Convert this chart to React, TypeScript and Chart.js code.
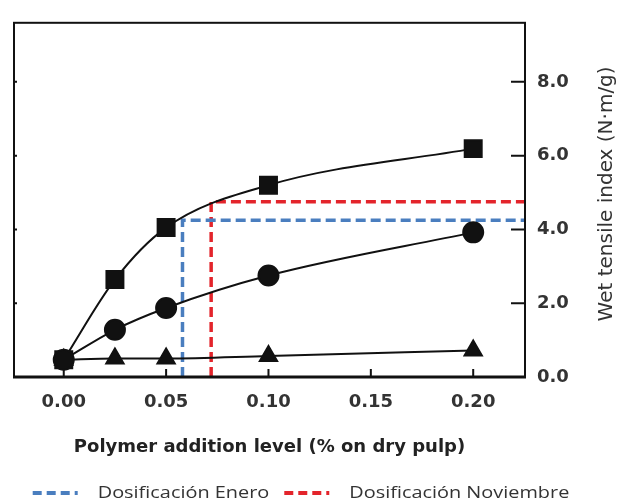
import React, { useEffect, useRef } from "react";
import { Chart, registerables } from "chart.js";

Chart.register(...registerables);

// ---- data ----
const additionLevels = [0, 0.025, 0.05, 0.1, 0.2];
const squareSeries = [0.47, 2.64, 4.05, 5.2, 6.19];
const circleSeries = [0.47, 1.28, 1.87, 2.75, 3.92];
const triangleSeries = [0.47, 0.5, 0.5, 0.57, 0.72];

const xTickValues = [0, 0.05, 0.1, 0.15, 0.2];
const yTickValues = [0, 2, 4, 6, 8];

const eneroDose = 0.058;
const eneroTensile = 4.25;
const noviembreDose = 0.072;
const noviembreTensile = 4.75;

const xMin = -0.0243;
const xMax = 0.2253;
const yMin = 0;
const yMax = 9.6;

const legendLabels = ["Dosificación Enero", "Dosificación Noviembre"];
const yTitle = "Wet tensile index (N·m/g)";
const xTitle = "Polymer addition level (% on dry pulp)";

const BLUE = "#4a7ebf";
const RED = "#e3242b";
const INK = "#111";

const tickFont = { family: "'DejaVu Sans'", size: 18, weight: "bold" as const };

const framePlugin = {
  id: "frameAndExtras",
  afterDraw(chart: any) {
    const { ctx, chartArea } = chart;
    const xs = chart.scales.x;
    const ys = chart.scales.y;
    const { left, right, top, bottom } = chartArea;
    ctx.save();
    // frame
    ctx.strokeStyle = INK;
    ctx.lineWidth = 2;
    ctx.strokeRect(left, top, right - left, bottom - top);
    ctx.lineWidth = 3;
    ctx.beginPath();
    ctx.moveTo(left - 1, bottom);
    ctx.lineTo(right + 1, bottom);
    ctx.stroke();
    // inside ticks
    ctx.lineWidth = 2;
    ctx.beginPath();
    xTickValues.forEach((v) => {
      const px = xs.getPixelForValue(v);
      ctx.moveTo(px, bottom);
      ctx.lineTo(px, bottom - 8);
    });
    yTickValues.forEach((v) => {
      if (v === 0) return;
      const py = ys.getPixelForValue(v);
      ctx.moveTo(right, py);
      ctx.lineTo(right - 14, py);
      ctx.moveTo(left, py);
      ctx.lineTo(left + 3, py);
    });
    ctx.stroke();

    // right axis title, reading bottom to top
    ctx.fillStyle = "#333";
    ctx.font = "20px 'DejaVu Sans'";
    ctx.textAlign = "center";
    ctx.textBaseline = "middle";
    ctx.translate(right + 82, (top + bottom) / 2 - 6);
    ctx.rotate(-Math.PI / 2);
    ctx.fillText(yTitle, 0, 0);
    ctx.restore();

    // legend
    ctx.save();
    ctx.font = "17px 'Open Sans'";
    ctx.textBaseline = "middle";
    ctx.textAlign = "left";
    const stretch = 1.17;
    const lineW = 45;
    const gap = 20;
    const itemGap = 15;
    const w1 = ctx.measureText(legendLabels[0]).width * stretch;
    const w2 = ctx.measureText(legendLabels[1]).width * stretch;
    const total = lineW + gap + w1 + itemGap + lineW + gap + w2;
    let x = (chart.width - total) / 2 - 8;
    const y = chart.height - 10;
    const colors = [BLUE, RED];
    const widths = [w1, w2];
    for (let i = 0; i < 2; i++) {
      ctx.strokeStyle = colors[i];
      ctx.lineWidth = 4;
      ctx.setLineDash([9, 5]);
      ctx.beginPath();
      ctx.moveTo(x, y);
      ctx.lineTo(x + lineW, y);
      ctx.stroke();
      ctx.setLineDash([]);
      x += lineW + gap;
      ctx.fillStyle = "#333";
      ctx.save();
      ctx.translate(x, y);
      ctx.scale(stretch, 1);
      ctx.fillText(legendLabels[i], 0, 0);
      ctx.restore();
      x += widths[i] + itemGap;
    }
    ctx.restore();
  },
};

function pts(ys: number[]) {
  return additionLevels.map((x, i) => ({ x, y: ys[i] }));
}

export default function App() {
  const canvasRef = useRef<HTMLCanvasElement | null>(null);

  useEffect(() => {
    if (!canvasRef.current) return;
    const seriesBase = {
      showLine: true,
      borderColor: INK,
      backgroundColor: INK,
      pointBackgroundColor: INK,
      pointBorderColor: INK,
      borderWidth: 2,
      cubicInterpolationMode: "monotone" as const,
    };
    const dashBase = {
      showLine: true,
      pointRadius: 0,
      borderWidth: 3.5,
      borderDash: [10, 5],
      tension: 0,
    };
    const chart = new Chart(canvasRef.current, {
      type: "scatter",
      data: {
        datasets: [
          { ...seriesBase, label: "circles", data: pts(circleSeries), pointStyle: "circle", pointRadius: 10 },
          { ...seriesBase, label: "squares", data: pts(squareSeries), pointStyle: "rect", pointRadius: 12 },
          { ...seriesBase, label: "triangles", data: pts(triangleSeries), pointStyle: "triangle", pointRadius: 10 },
          {
            ...dashBase,
            label: legendLabels[0],
            borderColor: BLUE,
            data: [
              { x: eneroDose, y: yMin },
              { x: eneroDose, y: eneroTensile },
              { x: xMax, y: eneroTensile },
            ],
          },
          {
            ...dashBase,
            label: legendLabels[1],
            borderColor: RED,
            data: [
              { x: noviembreDose, y: yMin },
              { x: noviembreDose, y: noviembreTensile },
              { x: xMax, y: noviembreTensile },
            ],
          },
        ],
      },
      options: {
        animation: false,
        responsive: true,
        maintainAspectRatio: false,
        layout: { padding: { top: 17, left: 12, right: 0, bottom: 36 } },
        plugins: {
          legend: { display: false },
          tooltip: { enabled: false },
        },
        scales: {
          x: {
            type: "linear",
            position: "bottom",
            min: xMin,
            max: xMax,
            afterBuildTicks: (s: any) => {
              s.ticks = xTickValues.map((v) => ({ value: v }));
            },
            afterFit: (s: any) => {
              s.height = 90;
            },
            ticks: {
              callback: (v: any) => Number(v).toFixed(2),
              font: tickFont,
              color: "#333",
              padding: 15,
              maxRotation: 0,
              autoSkip: false,
            },
            grid: { display: false, drawTicks: false },
            border: { display: false },
            title: {
              display: true,
              text: xTitle,
              color: "#222",
              font: tickFont,
              padding: { top: 9, bottom: 9 },
            },
          },
          y: {
            type: "linear",
            position: "right",
            min: yMin,
            max: yMax,
            afterBuildTicks: (s: any) => {
              s.ticks = yTickValues.map((v) => ({ value: v }));
            },
            afterFit: (s: any) => {
              s.width = 93;
            },
            ticks: {
              callback: (v: any) => Number(v).toFixed(1),
              font: tickFont,
              color: "#333",
              padding: 12,
            },
            grid: { display: false, drawTicks: false },
            border: { display: false },
          },
        },
      },
      plugins: [framePlugin],
    });
    return () => chart.destroy();
  }, []);

  return (
    <div style={{ position: "absolute", left: 0, top: 0, width: 618, height: 503, background: "#fff" }}>
      <canvas ref={canvasRef} />
    </div>
  );
}
